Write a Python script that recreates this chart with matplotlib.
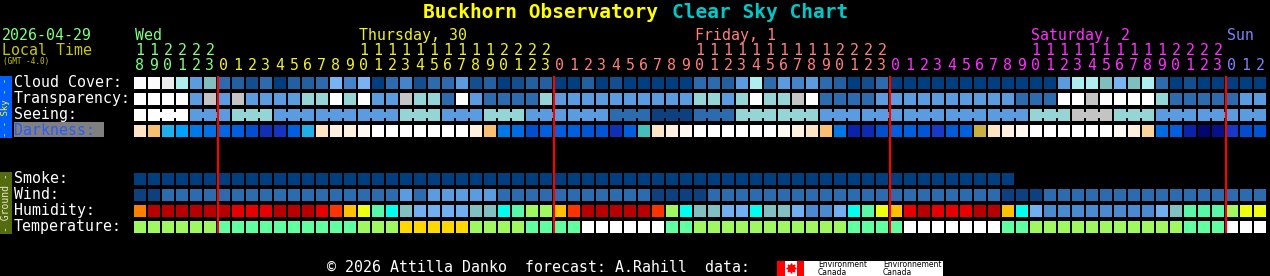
#!/usr/bin/env python3
"""
Clear Sky Chart for Buckhorn Observatory, one column per forecast hour
"""
import matplotlib
matplotlib.use('Agg')
from matplotlib import pyplot as plt
from matplotlib.patches import Rectangle
from matplotlib.colors import LinearSegmentedColormap, Normalize

# forecast starts Wed 29 at 18:00 local time, one value per hour
start_hour = 18
day_labels = ['Wed', 'Thursday, 30', 'Friday, 1', 'Saturday, 2', 'Sun']
day_label_hour = [18, 10, 10, 10, 0]
day_colors = ['#80ff80', '#f0f030', '#ff8080', '#ff30ff', '#8080ff']

# cloud cover in %
cloud = [100, 100, 90, 80, 50, 70, 30, 20, 10, 30, 0, 20, 20, 30,
         60, 40, 60, 0, 30, 40, 10, 30, 30, 50, 10, 20, 0, 10, 20, 20, 0, 0, 20, 0, 10, 0, 0,
         0, 0, 0, 30, 30, 20, 50, 80, 30, 50, 40, 50, 30, 20, 0, 10, 30, 0, 0, 0, 0, 0,
         0, 0, 0, 0, 0, 0, 0, 50, 80, 80, 70, 60, 70, 80, 30, 0, 10, 0, 0, 0, 0, 0]

# transparency / seeing: 0 too cloudy, 1 poor/bad ... 5 transparent/excellent
transparency = [0, 0, 0, 0, 3, 1, 3, 1, 3, 3, 3, 3, 2, 2,
                0, 2, 0, 3, 3, 1, 2, 2, 4, 0, 3, 4, 4, 4, 4, 2, 3, 3, 3, 3, 3, 3, 3,
                3, 3, 3, 2, 2, 3, 2, 0, 2, 2, 1, 0, 4, 4, 4, 4, 3, 3, 3, 3, 3, 3,
                3, 3, 3, 3, 4, 4, 4, 0, 0, 1, 0, 0, 0, 0, 2, 4, 4, 4, 4, 4, 3, 3]

# seeing comes in 3 hour blocks (first block is a single hour)
seeing_blocks = [0, 0, 3, 2, 3, 3, 3, 2, 3, 2, 3, 3, 4, 5, 4, 2, 2, 3, 3, 3,
                 3, 3, 2, 1, 2, 3, 3, 3]

# darkness as limiting magnitude (-4 daylight .. 6.5 moonless night)
darkness = [-2, -1, 1.5, 2, 3, 3.3, 3.7, 4, 4.5, 5.5, 5.2, 4, 1.5, -2,
            -3, -3, -3.5, -4, -4, -4, -4, -4, -4, -4, -3, -1, 3, 3.5, 4.5, 4, 4, 4, 4.3, 4.3, 5.5, 4, 1,
            -2, -3, -3.5, -4, -4, -4, -4, -4, -4, -3.5, -3, -2, -1, 3, 5.8, 5.6, 4.5, 4, 4, 4.3, 5, 4.2,
            4, 0.5, -2, -3, -3.5, -4, -4, -4, -4, -4, -4, -3.5, -3, -1.5, 3.5, 4, 5.8, 6.5, 6.2, 5, 4.6, 4.4]

# smoke in ug/m^3 (forecast only covers 63 hours)
smoke = [0, 0, 0, 0, 0, 0, 0, 0, 0, 0, 0, 0, 0, 0, 0, 0, 0, 0, 0, 0, 0,
         0, 0, 0, 0, 0, 0, 0, 0, 0, 0, 0, 0, 0, 0, 0, 0, 0, 0, 0, 0, 0,
         0, 0, 0, 0, 0, 0, 0, 0, 0, 0, 0, 0, 0, 0, 0, 0, 0, 0, 0, 0, 0]

# wind in mph
wind = [3, 3, 8, 8, 8, 8, 8, 8, 8, 8, 8, 8, 8, 8,
        8, 8, 8, 8, 8, 14, 8, 14, 14, 14, 14, 14, 8, 8, 8, 8, 8, 8, 8, 8, 8, 8, 8,
        3, 3, 3, 3, 8, 8, 8, 8, 8, 8, 8, 8, 8, 8, 8, 8, 8, 8, 8, 8, 8, 8,
        8, 8, 8, 3, 3, 3, 8, 8, 8, 8, 8, 8, 8, 8, 8, 8, 8, 8, 8, 8, 8, 8]

# relative humidity in %
humidity = [82, 97, 97, 97, 97, 97, 97, 92, 92, 92, 97, 97, 97, 92,
            87, 77, 72, 62, 57, 52, 47, 47, 47, 47, 52, 52, 57, 62, 67, 67, 77, 87, 97, 97, 97, 97, 97,
            87, 67, 57, 52, 52, 47, 47, 57, 52, 52, 47, 42, 42, 47, 57, 62, 72, 77, 92, 97, 92, 92,
            92, 97, 97, 77, 57, 47, 42, 42, 42, 42, 42, 42, 42, 42, 47, 52, 62, 62, 62, 67, 72, 72]

# temperature in C
temperature = [11, 11, 11, 11, 11, 11, 6, 6, 6, 6, 6, 6, 6, 6,
               6, 6, 11, 11, 11, 17, 17, 17, 17, 17, 11, 11, 11, 11, 6, 6, 6, 6, 2, 2, 2, 2, 2,
               2, 6, 6, 11, 11, 11, 11, 11, 11, 11, 11, 11, 11, 11, 6, 6, 6, 6, 2, 2, 2, 2,
               2, 2, 2, 6, 6, 11, 11, 11, 11, 11, 11, 11, 11, 11, 11, 11, 6, 6, 6, 2, 2, 2]

# colour scales
cloud_colors = ['#003f7f', '#134f8f', '#23609f', '#2c6cae', '#4584c8', '#5b9be0',
                '#78b4f4', '#7fbfbf', '#aeeeee', '#ececec', '#fbfbfb']
quality_colors = ['#ffffff', '#c4c4c4', '#95d5d5', '#5b9be0', '#2c6cae', '#0e3f7f']
wind_colors = [(5, '#0e3f7f'), (11, '#2c6cae'), (16, '#5b9be0')]
humidity_colors = ['#4a8ad0', '#70b0f0', '#80c0c0', '#00ffee', '#58f8a8', '#a0f860',
                   '#eeff10', '#ffc000', '#ff8000', '#ff3300', '#e80000', '#b80000']
temp_colors = [(3, '#ffffff'), (8, '#60ffa0'), (14, '#a0f860'), (20, '#ffd800')]
dark_anchors = [(-4, '#ffffff'), (-3.5, '#fff8f0'), (-3, '#fff0e0'), (-2, '#fde4c4'),
                (-1, '#f8c070'), (0, '#f0a030'), (0.5, '#c8b040'), (1, '#40c0c0'),
                (1.5, '#20b0e8'), (2, '#00a0ff'), (3, '#0078e8'), (4, '#0060e0'),
                (4.5, '#0050d0'), (5, '#1838c8'), (5.5, '#1030b8'), (6, '#0818a0'),
                (6.5, '#000870')]

X0, PITCH, CELL = 134, 14, 12
SKY_TOPS = [77, 93, 109, 125]
GROUND_TOPS = [173, 189, 205, 221]
MONO = 'DejaVu Sans Mono'
FS = 10.7


def binned(value, table):
    for edge, color in table:
        if value < edge:
            return color
    return table[-1][1]


def draw_row(ax, top, colors):
    for i, c in enumerate(colors):
        ax.add_patch(Rectangle((X0 + i * PITCH, top), CELL, CELL, color=c, lw=0))


def main():
    n = len(cloud)
    fig = plt.figure(figsize=(12.7, 2.76), dpi=100, facecolor='black')
    ax = fig.add_axes([0, 0, 1, 1])
    ax.set_xlim(0, 1270)
    ax.set_ylim(276, 0)
    ax.set_facecolor('black')
    ax.axis('off')

    # title
    ax.text(658, 18.5, 'Buckhorn Observatory', color='#ffff00', ha='right', va='baseline',
            fontsize=14, fontweight='bold', family=MONO)
    ax.text(672, 18.5, 'Clear Sky Chart', color='#00c8c8', ha='left', va='baseline',
            fontsize=14, fontweight='bold', family=MONO)

    ax.text(2, 40, '2026-04-29', color='#80ff80', fontsize=FS, family=MONO, va='baseline')
    ax.text(2, 55, 'Local Time', color='#c8c800', fontsize=FS, family=MONO, va='baseline')
    ax.text(3, 64, '(GMT -4.0)', color='#c8c800', fontsize=5.5, family=MONO, va='baseline')

    # hour header
    for i in range(n):
        hour = (start_hour + i) % 24
        day = (start_hour + i) // 24
        cx = X0 + i * PITCH + CELL / 2
        col = day_colors[day]
        ax.text(cx, 70, str(hour % 10), color=col, ha='center', va='baseline',
                fontsize=FS, family=MONO)
        if hour >= 10:
            ax.text(cx, 55, str(hour // 10), color=col, ha='center', va='baseline',
                    fontsize=FS, family=MONO)
        if hour == day_label_hour[day]:
            ax.text(X0 + i * PITCH + 1, 40, day_labels[day], color=col, ha='left',
                    va='baseline', fontsize=FS, family=MONO)

    # sky rows
    draw_row(ax, SKY_TOPS[0], [cloud_colors[round(v / 10)] for v in cloud])
    draw_row(ax, SKY_TOPS[1], [quality_colors[v] for v in transparency])

    block = [(i + 2) // 3 for i in range(n)]
    top = SKY_TOPS[2]
    for i in range(n):
        c = quality_colors[seeing_blocks[block[i]]]
        ax.add_patch(Rectangle((X0 + i * PITCH, top), CELL, CELL, color=c, lw=0))
        if i + 1 < n and block[i + 1] == block[i]:
            ax.add_patch(Rectangle((X0 + i * PITCH + CELL, top + 3), PITCH - CELL, CELL - 6,
                                   color=c, lw=0))

    cmap = LinearSegmentedColormap.from_list(
        'darkness', [((v + 4) / 10.5, c) for v, c in dark_anchors])
    norm = Normalize(-4, 6.5)
    draw_row(ax, SKY_TOPS[3], [cmap(norm(v)) for v in darkness])

    # ground rows
    draw_row(ax, GROUND_TOPS[0], ['#003f7f' for v in smoke])
    draw_row(ax, GROUND_TOPS[1], [binned(v, wind_colors) for v in wind])
    draw_row(ax, GROUND_TOPS[2], [humidity_colors[min(11, max(0, (v - 40) // 5))] for v in humidity])
    draw_row(ax, GROUND_TOPS[3], [binned(v, temp_colors) for v in temperature])

    # midnight markers
    for i in range(n):
        if (start_hour + i) % 24 == 0:
            ax.vlines(X0 + i * PITCH, 76, 233, color='#ff0000', lw=1.5)

    # row labels
    sky_names = ['Cloud Cover:', 'Transparency:', 'Seeing:']
    for name, t in zip(sky_names, SKY_TOPS):
        ax.text(14, t + 10, name, color='white', fontsize=FS, family=MONO, va='baseline')
    ax.add_patch(Rectangle((14, 122), 90, 15, color='#808080', lw=0))
    ax.text(14, SKY_TOPS[3] + 10, 'Darkness:', color='#2a5cff', fontsize=FS,
            family=MONO, va='baseline')
    ground_names = ['Smoke:', 'Wind:', 'Humidity:', 'Temperature:']
    for name, t in zip(ground_names, GROUND_TOPS):
        ax.text(14, t + 10, name, color='white', fontsize=FS, family=MONO, va='baseline')

    # side bars
    ax.add_patch(Rectangle((0, 76), 12, 62, color='#0060ff', lw=0))
    ax.text(6, 107, '- - Sky - -', color='#ffff00', rotation=90, ha='center', va='center',
            fontsize=6.5, family=MONO)
    ax.add_patch(Rectangle((0, 172), 12, 62, color='#556b0f', lw=0))
    ax.text(6, 203, '- Ground -', color='#e8e8d0', rotation=90, ha='center', va='center',
            fontsize=7, family=MONO)

    # footer
    ax.text(327, 272, '\u00a9 2026 Attilla Danko  forecast: A.Rahill  data:', color='white',
            fontsize=FS, family=MONO, va='baseline')
    ax.add_patch(Rectangle((777, 261), 166, 16, color='white', lw=0))
    ax.add_patch(Rectangle((777, 261), 8, 16, color='#ff0000', lw=0))
    ax.add_patch(Rectangle((797, 261), 7, 16, color='#ff0000', lw=0))
    ax.plot([791], [268], marker=(8, 1, 0), color='#ff0000', markersize=7)
    for x, word in [(818, 'Environment'), (883, 'Environnement')]:
        ax.text(x, 267, word, color='black', fontsize=5.5, va='baseline')
        ax.text(x, 275, 'Canada', color='black', fontsize=5.5, va='baseline')

    fig.savefig('out.png', dpi=100, facecolor='black')


if __name__ == '__main__':
    main()
